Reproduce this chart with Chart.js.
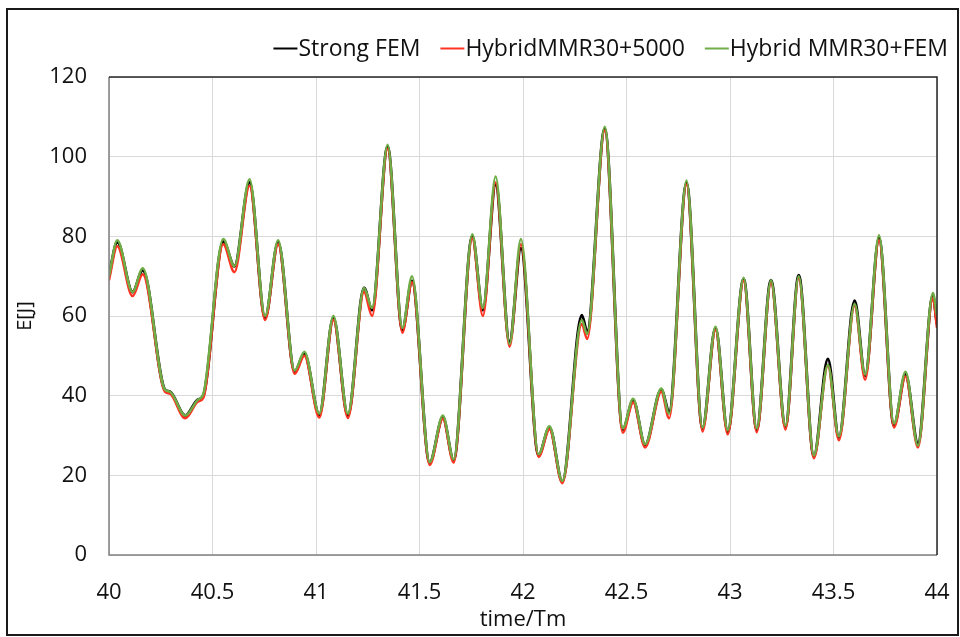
<!DOCTYPE html>
<html>
<head>
<meta charset="utf-8">
<script src="https://cdn.jsdelivr.net/npm/chart.js@4.4.1/dist/chart.umd.min.js"></script>
<style>
  html, body { margin: 0; padding: 0; background: #fff; }
  canvas { display: block; }
</style>
</head>
<body>
<canvas id="energy-chart" width="960" height="637"></canvas>
<script>
// time / Tm at the turning points of the curves
var times = [40.000, 40.040, 40.114, 40.163, 40.270, 40.294, 40.368, 40.430, 40.456, 40.552,
  40.606, 40.679, 40.754, 40.817, 40.897, 40.944, 41.016, 41.084, 41.154, 41.232,
  41.271, 41.346, 41.417, 41.464, 41.549, 41.613, 41.665, 41.755, 41.806, 41.868,
  41.935, 41.990, 42.075, 42.128, 42.190, 42.284, 42.310, 42.395, 42.482, 42.532,
  42.590, 42.668, 42.706, 42.790, 42.867, 42.930, 42.989, 43.066, 43.129, 43.198,
  43.268, 43.332, 43.405, 43.473, 43.526, 43.602, 43.653, 43.720, 43.792, 43.848,
  43.908, 43.980, 44.000];

var strongFem = [70, 78.5, 66, 71.5, 41.5, 41, 35, 39, 40, 78.7,
  72.5, 93.5, 59.5, 78.5, 46, 50.5, 35.2, 59.5, 35, 67,
  61.5, 102.5, 56.5, 68.8, 23.2, 34.5, 23.8, 80, 61.5, 93,
  53.5, 77, 25, 32, 18.4, 60.2, 56, 107, 31.5, 38.8,
  27.6, 41.5, 36, 93.4, 31.8, 57, 31, 69.3, 31.5, 69,
  32.3, 70.2, 24.8, 49.2, 29.5, 63.8, 45, 79.5, 32.5, 45.3,
  28, 65, 58];

var hybrid5000 = [69, 77.5, 65, 70.5, 41, 40.5, 34.3, 38.5, 39.5, 78,
  71, 92.7, 59, 78, 45.5, 50, 34.5, 59, 34.4, 66,
  60, 102, 55.8, 68.5, 22.6, 34.2, 23.2, 79.5, 60, 93.5,
  52.3, 78, 24.6, 31.6, 18, 58, 54.2, 106.6, 30.7, 38.3,
  27, 41, 34.3, 93, 31, 56.5, 30.3, 68.8, 30.8, 68.3,
  31.5, 69.5, 24.3, 47.5, 28.8, 62.5, 44, 79, 32, 44.8,
  27, 64.5, 57];

var hybridFem = [70, 79, 66, 72, 41.5, 41, 35, 39, 40.5, 79.3,
  72.5, 94.3, 60, 79, 46.3, 51, 35.5, 60, 35.5, 67,
  62, 103, 57, 70, 23.3, 35, 24, 80.5, 62, 95,
  53, 79.3, 25.3, 32.3, 18.6, 59, 55.5, 107.5, 31.8, 39.2,
  27.8, 41.8, 35.5, 94, 32, 57.3, 31.3, 69.6, 31.8, 69,
  32.5, 70, 25, 47.7, 29.8, 63, 45.3, 80.3, 33, 46,
  27.5, 65.8, 60];

var seriesNames = ['Strong FEM', 'HybridMMR30+5000', 'Hybrid MMR30+FEM'];
var seriesColors = ['#000000', '#ff3322', '#70ad47'];

function toPoints(values) {
  return times.map(function (t, i) { return { x: t, y: values[i] }; });
}

var FONT = "'Open Sans', 'Liberation Sans', sans-serif";

// Excel-style legend: short dash glued to the label, right aligned
var legendPlugin = {
  id: 'excelLegend',
  afterDraw: function (chart) {
    var c = chart.ctx;
    var right = 948, dash = 25, gap = 20, lineY = 48.5, textY = 56;
    c.save();
    c.font = '23px ' + FONT;
    c.textBaseline = 'alphabetic';
    c.textAlign = 'left';
    var x = right;
    var pos = [];
    for (var i = chart.data.datasets.length - 1; i >= 0; i--) {
      var w = c.measureText(chart.data.datasets[i].label).width;
      x -= w;
      pos[i] = x;
      x -= dash + gap;
    }
    chart.data.datasets.forEach(function (ds, i) {
      c.strokeStyle = ds.borderColor;
      c.lineWidth = 2;
      c.beginPath();
      c.moveTo(pos[i] - dash, lineY);
      c.lineTo(pos[i] - 1, lineY);
      c.stroke();
      c.fillStyle = '#111';
      c.fillText(ds.label, pos[i], textY);
    });
    c.restore();
  }
};

var framePlugin = {
  id: 'frame',
  beforeDraw: function (chart) {
    var c = chart.ctx;
    c.save();
    c.fillStyle = '#fff';
    c.fillRect(0, 0, chart.width, chart.height);
    c.restore();
  },
  afterDraw: function (chart) {
    var c = chart.ctx, a = chart.chartArea;
    c.save();
    // plot area border
    c.lineWidth = 1.5;
    c.strokeStyle = '#808080';
    c.beginPath();
    c.moveTo(a.left, a.top); c.lineTo(a.left, a.bottom); c.lineTo(a.right, a.bottom);
    c.stroke();
    c.strokeStyle = '#262626';
    c.beginPath();
    c.moveTo(a.left, a.top); c.lineTo(a.right, a.top); c.lineTo(a.right, a.bottom);
    c.stroke();
    // outer frame
    c.lineWidth = 2;
    c.strokeStyle = '#1a1a1a';
    c.strokeRect(7, 9, 951, 626);
    c.restore();
  }
};

var ctx = document.getElementById('energy-chart').getContext('2d');
var chart = new Chart(ctx, {
  type: 'line',
  data: {
    datasets: [{
      label: seriesNames[0],
      data: toPoints(strongFem),
      borderColor: seriesColors[0],
      borderWidth: 3,
      order: 3
    }, {
      label: seriesNames[1],
      data: toPoints(hybrid5000),
      borderColor: seriesColors[1],
      borderWidth: 2.5,
      order: 2
    }, {
      label: seriesNames[2],
      data: toPoints(hybridFem),
      borderColor: seriesColors[2],
      borderWidth: 2.5,
      order: 1
    }]
  },
  options: {
    responsive: false,
    animation: false,
    devicePixelRatio: 1,
    layout: { padding: { left: 13, right: 23, top: 77, bottom: 2 } },
    elements: {
      point: { radius: 0 },
      line: { cubicInterpolationMode: 'monotone', fill: false }
    },
    plugins: {
      tooltip: { enabled: false },
      legend: { display: false }
    },
    scales: {
      x: {
        type: 'linear',
        min: 40,
        max: 44,
        afterFit: function (s) { s.height = 80; },
        ticks: {
          stepSize: 0.5,
          padding: 10,
          color: '#111',
          font: { family: FONT, size: 22 },
          callback: function (v) { return String(Math.round(v * 10) / 10); }
        },
        grid: {
          color: '#d9d9d9',
          lineWidth: 1,
          drawTicks: true,
          tickLength: 15,
          tickColor: 'rgba(0,0,0,0)'
        },
        border: { display: false },
        title: {
          display: true,
          text: 'time/Tm',
          color: '#111',
          padding: { top: 0, bottom: 2 },
          font: { family: FONT, size: 22 }
        }
      },
      y: {
        min: 0,
        max: 120,
        afterFit: function (s) { s.width = 96; },
        ticks: {
          stepSize: 20,
          padding: 22,
          color: '#111',
          font: { family: FONT, size: 22 }
        },
        grid: { color: '#d9d9d9', lineWidth: 1, drawTicks: false },
        border: { display: false },
        title: {
          display: true,
          text: 'E[J]',
          color: '#111',
          padding: { top: 0, bottom: 0 },
          font: { family: FONT, size: 20 }
        }
      }
    }
  },
  plugins: [framePlugin, legendPlugin]
});
</script>
</body>
</html>
